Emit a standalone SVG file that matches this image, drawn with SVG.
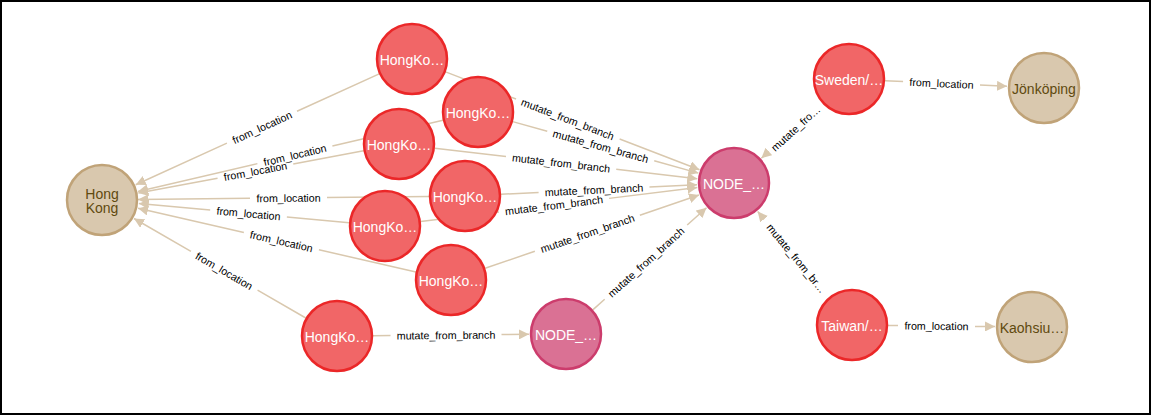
<svg xmlns="http://www.w3.org/2000/svg" width="1152" height="416" viewBox="0 0 1152 416">
<style>
.e{fill:none;stroke:#d9c8ae;stroke-width:1.5;marker-end:url(#arr)}
.el{font-family:"Liberation Sans",Arial,sans-serif;font-size:10.7px;fill:#000;text-anchor:middle;dominant-baseline:central}
.red circle{fill:#f16667;stroke:#eb2728;stroke-width:2.5}
.pink circle{fill:#da7194;stroke:#cc3c6c;stroke-width:2.5}
.tan circle{fill:#d9c8ae;stroke:#c0a378;stroke-width:2.5}
.nt{font-family:"Liberation Sans",Arial,sans-serif;font-size:14px;text-anchor:middle;dominant-baseline:central}
.red .nt,.pink .nt{fill:#fff}
.tan .nt{fill:#604a0e}
</style>
<defs>
<marker id="arr" markerUnits="userSpaceOnUse" markerWidth="11" markerHeight="10" refX="10" refY="5" orient="auto">
<path d="M0,0 L10,5 L0,10 z" fill="#d9c8ae"/>
</marker>
</defs>
<rect x="1" y="1" width="1149" height="413" fill="#fff" stroke="#000" stroke-width="2"/>
<g id="connectors">
<path class="e" d="M379.2,73.9 L135.7,184.7" stroke-dasharray="90.3 77 1000"/>
<path class="e" d="M443,120.2 L138,191.6" stroke-dasharray="113.6 77 1000"/>
<path class="e" d="M363.6,150.7 L138.4,193.1" stroke-dasharray="71.6 77 1000"/>
<path class="e" d="M429,196.4 L138,199.6" stroke-dasharray="102 77 1000"/>
<path class="e" d="M349.2,222.7 L138.8,203.4" stroke-dasharray="62.6 77 1000"/>
<path class="e" d="M415.9,272 L138.1,208.3" stroke-dasharray="99.5 77 1000"/>
<path class="e" d="M305.8,318 L134,218.5" stroke-dasharray="55.75 77 1000"/>
<path class="e" d="M445.6,71.9 L699.5,169.7" stroke-dasharray="75.5 111 1000"/>
<path class="e" d="M512.7,121.6 L698.4,173.1" stroke-dasharray="35.85 111 1000"/>
<path class="e" d="M434.8,148.2 L697.3,178.7" stroke-dasharray="71.65 111 1000"/>
<path class="e" d="M501,194.3 L697,184.8" stroke-dasharray="37.65 111 1000"/>
<path class="e" d="M420.7,221.6 L697.3,187.5" stroke-dasharray="78.8 111 1000"/>
<path class="e" d="M485.1,268.3 L699,195" stroke-dasharray="52.6 111 1000"/>
<path class="e" d="M592.8,309.9 L706.5,207.7" stroke-dasharray="15.95 111 1000"/>
<path class="e" d="M373,335.7 L529,334.3" stroke-dasharray="17.5 111 1000"/>
<path class="e" d="M822.3,103.1 L761.4,158.2" stroke-dasharray="0 72.05 1000"/>
<path class="e" d="M829,297.3 L757.7,211.5" stroke-dasharray="0 101.6 1000"/>
<path class="e" d="M885,80.7 L1007,86.3" stroke-dasharray="18.1 77 1000"/>
<path class="e" d="M888,325.4 L995,326.6" stroke-dasharray="10 77 1000"/>
<text class="el" transform="translate(262,127.2) rotate(-24.5)">from_location</text>
<text class="el" transform="translate(294.9,154.9) rotate(-13.2)">from_location</text>
<text class="el" transform="translate(255.4,171.1) rotate(-10.7)">from_location</text>
<text class="el" transform="translate(288.5,197.9) rotate(-0.6)">from_location</text>
<text class="el" transform="translate(248.5,213.4) rotate(5.25)">from_location</text>
<text class="el" transform="translate(281.4,241.2) rotate(12.9)">from_location</text>
<text class="el" transform="translate(224.2,270.8) rotate(30.1)">from_location</text>
<text class="el" transform="translate(567.8,119) rotate(21.06)">mutate_from_branch</text>
<text class="el" transform="translate(600.7,146) rotate(15.5)">mutate_from_branch</text>
<text class="el" transform="translate(561.1,162.9) rotate(6.64)">mutate_from_branch</text>
<text class="el" transform="translate(594,189.8) rotate(-2.77)">mutate_from_branch</text>
<text class="el" transform="translate(554,205.2) rotate(-7.02)">mutate_from_branch</text>
<text class="el" transform="translate(587.4,233.3) rotate(-18.92)">mutate_from_branch</text>
<text class="el" transform="translate(645.9,262.1) rotate(-41.95)">mutate_from_branch</text>
<text class="el" transform="translate(446,335.1) rotate(-0.5)">mutate_from_branch</text>
<text class="el" transform="translate(795.6,128.2) rotate(-42.1)">mutate_fro…</text>
<text class="el" transform="translate(796.5,258.2) rotate(50.3)">mutate_from_br…</text>
<text class="el" transform="translate(941.5,83.3) rotate(2.64)">from_location</text>
<text class="el" transform="translate(936.5,325.9) rotate(0.6)">from_location</text>
</g>
<g id="n-hongkong" class="tan"><circle cx="102" cy="200" r="35"/><text class="nt" x="102" y="193.5">Hong</text><text class="nt" x="102" y="207.5">Kong</text></g>
<g id="n-hk1" class="red"><circle cx="412" cy="59" r="35"/><text class="nt" x="412" y="60">HongKo…</text></g>
<g id="n-hk2" class="red"><circle cx="478" cy="112" r="35"/><text class="nt" x="478" y="113">HongKo…</text></g>
<g id="n-hk3" class="red"><circle cx="399" cy="144" r="35"/><text class="nt" x="399" y="145">HongKo…</text></g>
<g id="n-hk4" class="red"><circle cx="465" cy="196" r="35"/><text class="nt" x="465" y="197">HongKo…</text></g>
<g id="n-hk5" class="red"><circle cx="385" cy="226" r="35"/><text class="nt" x="385" y="227">HongKo…</text></g>
<g id="n-hk6" class="red"><circle cx="451" cy="280" r="35"/><text class="nt" x="451" y="281">HongKo…</text></g>
<g id="n-hk7" class="red"><circle cx="337" cy="336" r="35"/><text class="nt" x="337" y="337">HongKo…</text></g>
<g id="n-node-b" class="pink"><circle cx="566" cy="334" r="35"/><text class="nt" x="566" y="335">NODE_…</text></g>
<g id="n-node-c" class="pink"><circle cx="734" cy="183" r="35"/><text class="nt" x="734" y="184">NODE_…</text></g>
<g id="n-sweden" class="red"><circle cx="849" cy="79" r="35"/><text class="nt" x="849" y="80">Sweden/…</text></g>
<g id="n-jonkoping" class="tan"><circle cx="1044" cy="88" r="35"/><text class="nt" x="1044" y="89">Jönköping</text></g>
<g id="n-taiwan" class="red"><circle cx="852" cy="325" r="35"/><text class="nt" x="852" y="326">Taiwan/…</text></g>
<g id="n-kaohsiung" class="tan"><circle cx="1032" cy="327" r="35"/><text class="nt" x="1032" y="328">Kaohsiu…</text></g>
</svg>
